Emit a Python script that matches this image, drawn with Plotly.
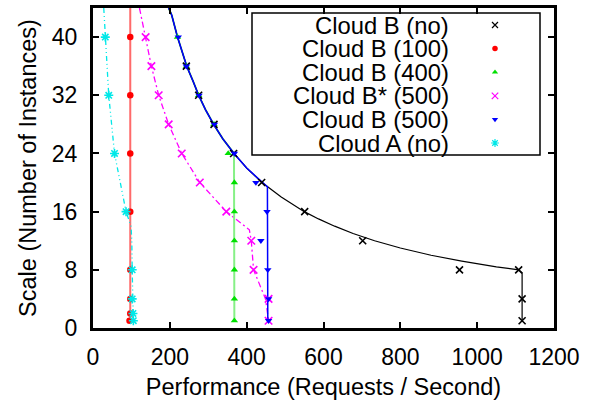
import plotly.graph_objects as go

# ---------------- data ----------------
series_names = ["Cloud B (no)", "Cloud B (100)", "Cloud B (400)",
                "Cloud B* (500)", "Cloud B (500)", "Cloud A (no)"]

# Cloud B (no): measured points and fitted curve
b_no_x = [243, 275, 315, 366, 439, 551, 702, 954, 1108, 1117, 1117]
b_no_y = [36, 32, 28, 24, 20, 16, 12, 8, 8, 4, 1]
b_no_fit_x = [197, 205, 220, 244, 260, 275, 293, 314, 338, 367, 400, 440, 490,
              550, 587, 629, 677, 733, 800, 880, 960, 1000, 1050, 1108, 1117, 1117]
b_no_fit_y = [44, 43, 40, 36, 34, 32, 30, 28, 26, 24, 22, 20, 18,
              16, 15, 14, 13, 12, 11, 10, 9.2, 8.8, 8.4, 8, 7.6, 1]

# Cloud B (100)
b100_x = [97, 97, 97, 97, 97, 97, 97, 95]
b100_y = [40, 32, 24, 16, 8, 4, 2, 1]
b100_line_x = [97, 97, 97]
b100_line_y = [1, 40, 48]

# Cloud B (400)
b400_x = [220, 243, 275, 315, 352, 368, 368, 368, 368, 368, 368]
b400_y = [40, 36, 32, 28, 24, 20, 16, 12, 8, 4, 1]
b400_line_x = [197, 205, 220, 244, 260, 275, 293, 314, 338, 367, 368]
b400_line_y = [44, 43, 40, 36, 34, 32, 30, 28, 26, 24, 1]

# Cloud B* (500)
bs500_x = [137, 152, 171, 197, 231, 278, 347, 412, 418, 457, 457]
bs500_y = [40, 36, 32, 28, 24, 20, 16, 12, 8, 4, 1]
bs500_line_x = [121, 137, 152, 171, 197, 231, 278, 347, 407, 412, 418, 449, 457]
bs500_line_y = [44, 40, 36, 32, 28, 24, 20, 16, 13.5, 12, 8, 4, 1]

# Cloud B (500)
b500_x = [222, 243, 276, 316, 368, 424, 453, 437, 455, 457, 457]
b500_y = [40, 36, 32, 28, 24, 20, 16, 12, 8, 4, 1]
b500_line_x = [197, 205, 220, 244, 260, 275, 293, 314, 338, 367, 400, 440, 454, 455]
b500_line_y = [44, 43, 40, 36, 34, 32, 30, 28, 26, 24, 22, 20, 19.4, 1]

# Cloud A (no)
a_no_x = [32, 41, 56, 86, 102, 102, 104, 105]
a_no_y = [40, 32, 24, 16, 8, 4, 2, 1]
a_no_line_x = [28, 32, 41, 56, 86, 99, 101, 102, 104, 105]
a_no_line_y = [44, 40, 32, 24, 16, 14, 12, 8, 2, 1]

x_ticks = [0, 200, 400, 600, 800, 1000, 1200]
y_ticks = [0, 8, 16, 24, 32, 40]

# ---------------- styles ----------------
FONT = "Liberation Sans, Arial, Helvetica, sans-serif"
styles = [
    dict(mcolor="black", symbol="x-thin", msize=7, mline=1.6,
         lcolor="black", lwidth=1.2, dash="solid"),
    dict(mcolor="#ff0000", symbol="circle", msize=6.5, mline=0,
         lcolor="#ff6a6a", lwidth=2, dash="solid"),
    dict(mcolor="#00e000", symbol="triangle-up", msize=6.5, mline=0,
         lcolor="#86f086", lwidth=2, dash="solid"),
    dict(mcolor="#ff00ff", symbol="x-thin", msize=7.5, mline=1.6,
         lcolor="#ff00ff", lwidth=1.3, dash="6px,3px,2px,3px"),
    dict(mcolor="#0000ff", symbol="triangle-down", msize=6.5, mline=0,
         lcolor="#0000ff", lwidth=1.5, dash="solid"),
    dict(mcolor="#00e8e8", symbol="asterisk", msize=7.5, mline=1.6,
         lcolor="#00e8e8", lwidth=1.3, dash="5px,3px,1px,3px,1px,3px"),
]

lines = [(b_no_fit_x, b_no_fit_y), (b100_line_x, b100_line_y),
         (b400_line_x, b400_line_y), (bs500_line_x, bs500_line_y),
         (b500_line_x, b500_line_y), (a_no_line_x, a_no_line_y)]
points = [(b_no_x, b_no_y), (b100_x, b100_y), (b400_x, b400_y),
          (bs500_x, bs500_y), (b500_x, b500_y), (a_no_x, a_no_y)]

fig = go.Figure()

# draw order: lines first then markers
order = [1, 5, 3, 2, 0, 4]
for i in order:
    s = styles[i]
    lx, ly = lines[i]
    fig.add_trace(go.Scatter(x=lx, y=ly, mode="lines", showlegend=False,
                             line=dict(color=s["lcolor"], width=s["lwidth"], dash=s["dash"]),
                             hoverinfo="skip", cliponaxis=True))
for i in order:
    s = styles[i]
    px_, py_ = points[i]
    mk = dict(symbol=s["symbol"], size=s["msize"], color=s["mcolor"])
    if s["mline"]:
        mk["line"] = dict(color=s["mcolor"], width=s["mline"])
    fig.add_trace(go.Scatter(x=px_, y=py_, mode="markers", name=series_names[i],
                             showlegend=False, marker=mk, cliponaxis=False))

# ---------------- legend (text left, symbol right, like gnuplot) ----------------
W, H = 596, 404
ML, MR, MT, MB = 93, 42, 8, 76
leg_left, leg_right, leg_top, leg_bottom = 252, 540, 13, 155
row_h = 23.6
for k, name in enumerate(series_names):
    yc = leg_top + 12 + k * row_h
    s = styles[k]
    fig.add_annotation(x=451, y=yc, xref="x2", yref="y2", text=name,
                       showarrow=False, xanchor="right", yanchor="middle",
                       font=dict(family=FONT, size=23.8, color="black"))
    mk = dict(symbol=s["symbol"], size=s["msize"] - 1, color=s["mcolor"])
    if s["mline"]:
        mk["line"] = dict(color=s["mcolor"], width=s["mline"] - 0.4)
    fig.add_trace(go.Scatter(x=[495], y=[yc], xaxis="x2", yaxis="y2", mode="markers",
                             showlegend=False, marker=mk, hoverinfo="skip"))

fig.add_shape(type="rect", xref="x2", yref="y2", x0=leg_left, x1=leg_right,
              y0=leg_top, y1=leg_bottom, line=dict(color="black", width=1.5),
              fillcolor="white", layer="below")

axis_common = dict(showgrid=False, zeroline=False, showline=True, linecolor="black",
                   linewidth=3, mirror="ticks", ticks="inside", ticklen=6,
                   tickwidth=2, tickcolor="black",
                   tickfont=dict(family=FONT, size=23, color="black"))

fig.update_layout(
    width=W, height=H,
    margin=dict(l=ML, r=MR, t=MT, b=MB, autoexpand=False),
    paper_bgcolor="white", plot_bgcolor="rgba(0,0,0,0)",
    showlegend=False,
    xaxis=dict(range=[0, 1200], tickvals=x_ticks, ticklabelstandoff=6,
               title=dict(text="Performance (Requests / Second)", standoff=10,
                          font=dict(family=FONT, size=23.5, color="black")),
               **axis_common),
    yaxis=dict(range=[0, 44], tickvals=y_ticks, ticklabelstandoff=8,
               title=dict(text="Scale (Number of Instances)", standoff=9,
                          font=dict(family=FONT, size=23.5, color="black")),
               **axis_common),
    xaxis2=dict(range=[ML, W - MR], overlaying="x", visible=False, fixedrange=True),
    yaxis2=dict(range=[H - MB, MT], overlaying="y", visible=False, fixedrange=True),
)

fig.write_html("out.html")
